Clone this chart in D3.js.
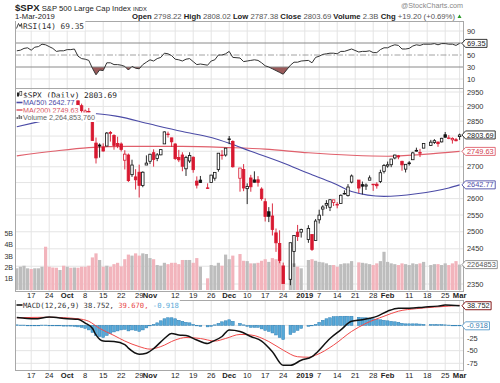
<!DOCTYPE html>
<html>
<head>
<meta charset="utf-8">
<script src="https://cdn.jsdelivr.net/npm/d3@7"></script>
<style>
  body { margin: 0; background: #fff; }
  svg { display: block; font-family: "Liberation Sans", Arial, sans-serif; }
</style>
</head>
<body>
<div id="chart"></div>
<script>
// ---- data ----
const firstDay = "2018-09-11", lastDay = "2019-03-01";
const holidays = ["2018-11-22", "2018-12-05", "2018-12-25", "2019-01-01", "2019-01-21", "2019-02-18"];
const prevClose = 2877.13;

const open = [
  2871.57, 2888.29, 2896.85, 2906.38,
  2903.83, 2890.74, 2906.60, 2919.73, 2936.76,
  2921.83, 2921.75, 2916.98, 2911.65, 2910.03,
  2926.29, 2923.80, 2931.69, 2919.35, 2902.54,
  2877.53, 2882.51, 2873.90, 2776.87, 2770.54,
  2763.83, 2767.05, 2811.67, 2802.00, 2775.66,
  2773.94, 2721.03, 2737.87, 2674.88, 2667.86,
  2682.65, 2640.68, 2705.60, 2717.58, 2745.45,
  2726.37, 2738.40, 2774.13, 2806.38, 2794.10,
  2773.93, 2730.05, 2737.90, 2693.52, 2718.54,
  2730.74, 2654.60, 2657.74, 2633.36,
  2649.97, 2663.75, 2691.45, 2736.97, 2737.76,
  2790.50, 2782.43, 2663.51, 2691.26,
  2630.86, 2664.44, 2658.23, 2658.70, 2629.68,
  2590.75, 2559.90, 2547.05, 2496.77, 2465.38,
  2400.56, 2363.12, 2442.50, 2498.77,
  2498.94, 2476.96, 2491.92, 2474.33,
  2535.61, 2568.11, 2580.00, 2573.51, 2588.11,
  2580.31, 2585.10, 2614.75, 2609.28, 2651.27,
  2657.88, 2643.48, 2638.84, 2657.44,
  2644.97, 2644.89, 2653.62, 2685.49, 2702.32,
  2706.49, 2728.34, 2735.05, 2717.53, 2692.36,
  2712.40, 2722.61, 2750.30, 2743.50, 2760.24,
  2769.28, 2779.05, 2780.24, 2780.67,
  2804.35, 2792.36, 2787.50, 2788.11, 2798.22
];
const high = [
  2892.52, 2894.65, 2906.76, 2908.30,
  2904.65, 2911.17, 2912.36, 2934.80, 2940.91,
  2923.79, 2923.95, 2931.15, 2927.22, 2920.53,
  2937.06, 2931.42, 2939.86, 2919.78, 2909.64,
  2889.45, 2894.83, 2874.02, 2795.14, 2775.77,
  2775.99, 2813.46, 2816.94, 2806.04, 2797.77,
  2778.94, 2753.59, 2742.59, 2722.70, 2692.38,
  2706.85, 2685.43, 2736.69, 2741.67, 2756.55,
  2744.27, 2756.82, 2815.15, 2814.75, 2794.10,
  2775.99, 2754.60, 2746.80, 2735.38, 2746.75,
  2733.16, 2669.44, 2670.73, 2647.55,
  2674.35, 2682.53, 2744.00, 2753.75, 2760.88,
  2800.18, 2785.93, 2696.15, 2708.54,
  2647.51, 2674.35, 2685.44, 2670.19, 2635.07,
  2601.13, 2573.99, 2585.29, 2509.63, 2504.41,
  2410.34, 2467.76, 2489.10, 2520.27,
  2509.24, 2519.49, 2493.14, 2538.07,
  2566.16, 2579.82, 2595.32, 2597.82, 2596.27,
  2589.32, 2613.08, 2625.76, 2645.06, 2675.47,
  2657.88, 2653.19, 2647.20, 2672.38,
  2644.97, 2650.93, 2690.44, 2708.95, 2716.66,
  2724.99, 2738.98, 2738.08, 2719.32, 2708.07,
  2718.05, 2748.19, 2761.85, 2757.90, 2775.66,
  2787.33, 2789.88, 2781.58, 2794.20,
  2813.49, 2803.12, 2795.76, 2793.73, 2808.02
];
const low = [
  2866.78, 2879.20, 2896.39, 2895.77,
  2886.16, 2890.43, 2903.82, 2919.73, 2927.11,
  2912.63, 2913.70, 2903.28, 2909.27, 2907.50,
  2917.91, 2919.37, 2921.36, 2883.92, 2869.29,
  2862.08, 2874.27, 2784.86, 2710.51, 2729.44,
  2749.03, 2766.91, 2781.81, 2755.18, 2760.27,
  2749.22, 2691.43, 2651.89, 2667.84, 2628.16,
  2603.54, 2635.34, 2705.60, 2708.85, 2700.44,
  2717.94, 2737.08, 2774.13, 2794.99, 2764.24,
  2722.00, 2714.98, 2685.75, 2670.75, 2712.16,
  2681.09, 2631.52, 2649.82, 2631.09,
  2649.97, 2655.89, 2684.38, 2722.94, 2732.76,
  2773.38, 2697.18, 2621.53, 2623.14,
  2583.23, 2621.30, 2650.26, 2637.27, 2593.84,
  2530.54, 2528.71, 2488.96, 2441.18, 2408.55,
  2351.10, 2346.58, 2397.94, 2472.89,
  2482.82, 2467.47, 2443.96, 2474.33,
  2524.56, 2547.56, 2568.89, 2562.02, 2577.40,
  2570.41, 2585.10, 2612.68, 2606.36, 2647.58,
  2617.27, 2612.86, 2627.01, 2657.33,
  2624.06, 2631.05, 2648.34, 2678.65, 2696.88,
  2698.75, 2724.03, 2724.15, 2687.26, 2681.83,
  2703.79, 2722.61, 2748.63, 2731.23, 2760.24,
  2767.29, 2774.06, 2764.55, 2779.11,
  2794.99, 2789.47, 2775.13, 2782.51, 2787.38
];
const close = [
  2887.89, 2888.92, 2904.18, 2904.98,
  2888.80, 2904.31, 2907.95, 2930.75, 2929.67,
  2919.37, 2915.56, 2905.97, 2914.00, 2913.98,
  2924.59, 2923.43, 2925.51, 2901.61, 2885.57,
  2884.43, 2880.34, 2785.68, 2728.37, 2767.13,
  2750.79, 2809.92, 2809.21, 2768.78, 2767.78,
  2755.88, 2740.69, 2656.10, 2705.57, 2658.69,
  2641.25, 2682.63, 2711.74, 2740.37, 2723.06,
  2738.31, 2755.45, 2813.89, 2806.83, 2781.01,
  2726.22, 2722.18, 2701.58, 2730.20, 2736.27,
  2690.73, 2641.89, 2649.93, 2632.56,
  2673.45, 2682.17, 2743.79, 2737.80, 2760.17,
  2790.37, 2700.06, 2695.95, 2633.08,
  2637.72, 2636.78, 2651.07, 2650.54, 2599.95,
  2545.94, 2546.16, 2506.96, 2467.42, 2416.62,
  2351.10, 2467.70, 2488.83, 2485.74,
  2506.85, 2510.03, 2447.89, 2531.94,
  2549.69, 2574.41, 2584.96, 2596.64, 2596.26,
  2582.61, 2610.30, 2616.10, 2635.96, 2670.71,
  2632.90, 2638.70, 2642.33, 2664.76,
  2643.85, 2640.00, 2681.05, 2704.10, 2706.53,
  2724.87, 2737.70, 2731.61, 2706.05, 2707.88,
  2709.80, 2744.73, 2753.03, 2745.73, 2775.60,
  2779.76, 2784.70, 2774.88, 2792.67,
  2796.11, 2793.90, 2792.38, 2784.49, 2803.69
];
// billions of shares
const volume = [
  1.93, 2.07, 2.16, 1.93,
  1.87, 1.93, 1.93, 2.07, 3.85,
  2.07, 2.00, 1.98, 1.78, 2.16,
  2.07, 1.98, 2.00, 1.98, 2.07,
  2.07, 2.16, 2.90, 3.26, 2.67,
  2.07, 2.16, 2.07, 2.30, 2.42,
  2.10, 2.74, 3.15, 3.06, 3.26,
  3.06, 3.26, 3.20, 2.84, 2.74,
  2.22, 2.16, 2.42, 2.30, 2.42,
  2.42, 2.30, 2.67, 2.67, 2.67,
  2.42, 2.84, 2.07, 1.04,
  2.22, 2.16, 2.42, 2.16, 3.15,
  2.74, 3.06, 3.20, 2.60,
  2.57, 2.37, 2.37, 2.42, 2.60,
  2.74, 2.50, 2.84, 2.74, 3.62,
  2.22, 2.67, 2.37, 2.07,
  1.93, 2.67, 2.74, 2.60,
  2.50, 2.46, 2.37, 2.22, 2.22,
  2.07, 2.30, 2.37, 2.37, 2.57,
  2.46, 2.42, 2.37, 2.30,
  2.22, 2.37, 2.57, 3.40, 2.50,
  2.37, 2.30, 2.22, 2.37, 2.30,
  2.22, 2.37, 2.30, 2.37, 2.50,
  2.22, 2.30, 2.30, 2.22,
  2.37, 2.22, 2.37, 2.57, 2.26
];
const rsi = [
  57, 58, 61, 62,
  58, 63, 64, 68, 67,
  64, 61, 56, 57, 57,
  59, 59, 60, 48, 44,
  43, 41, 28, 17, 25,
  24, 37, 37, 34, 34,
  33, 31, 25, 31, 28,
  27, 34, 38, 42, 40,
  44, 46, 53, 52, 49,
  43, 42, 40, 43, 44,
  39, 34, 35, 33,
  40, 42, 50, 50, 52,
  56, 46, 45, 39,
  40, 41, 42, 41, 37,
  32, 30, 27, 24, 21,
  18, 33, 38, 38,
  40, 41, 37, 46,
  48, 51, 52, 53, 53,
  52, 56, 56, 58, 60,
  55, 56, 56, 57,
  54, 54, 59, 62, 62,
  65, 67, 66, 60, 60,
  61, 65, 67, 66, 68,
  68, 69, 67, 69,
  69, 68, 68, 66, 69.35
];
const macdHist = [
  1, 0.5, 0.5, 0,
  -0.5, -1, -0.5, 0.5, 0.5,
  0, -0.5, -1, -1, -1.5,
  -1.5, -1.5, -2, -3, -4,
  -6, -9, -14, -20, -22,
  -24, -20, -16, -13, -11,
  -9, -8, -11, -9, -10,
  -12, -9, -5, -1, 2,
  5, 9, 13, 15, 15,
  13, 10, 8, 6, 5,
  2, -1, -2, -3,
  -2, 1, 4, 7, 9,
  11, 8, 4, 1,
  -2, -4, -4, -4, -7,
  -10, -12, -15, -19, -24,
  -28, -18, -14, -10,
  -6, -2, -0.5, 2,
  6, 10, 13, 15, 17,
  17.5, 18, 18, 18, 18,
  16, 15, 15, 14,
  13, 12, 11, 10, 9,
  8, 7, 6, 4, 3,
  3, 3, 3, 2.5, 2,
  2, 1.5, 1.5, 1.5,
  1, 0.5, 0, -0.5, -0.918
];

const ma50Days = ["2018-09-11", "2018-09-18", "2018-09-25", "2018-10-02", "2018-10-10", "2018-10-19",
  "2018-11-01", "2018-11-14", "2018-11-26", "2018-12-03", "2018-12-11", "2018-12-24", "2019-01-02",
  "2019-01-11", "2019-01-18", "2019-01-31", "2019-02-13", "2019-02-26", "2019-03-01"];
const ma50 = [2831, 2845, 2858, 2870, 2876, 2866, 2840, 2815, 2795, 2776, 2750, 2712, 2679,
  2648, 2622, 2607, 2615, 2633, 2642.77];

const ma200Days = ["2018-09-11", "2018-09-25", "2018-10-09", "2018-10-24", "2018-11-14", "2018-12-03",
  "2018-12-17", "2019-01-02", "2019-01-18", "2019-02-01", "2019-02-15", "2019-03-01"];
const ma200 = [2735, 2750, 2762, 2766, 2766, 2762, 2757, 2745, 2737, 2734, 2740, 2749.63];

const macdDays = ["2018-09-11", "2018-09-18", "2018-09-24", "2018-10-01", "2018-10-04", "2018-10-08",
  "2018-10-10", "2018-10-11", "2018-10-15", "2018-10-18", "2018-10-23", "2018-10-24", "2018-10-29",
  "2018-10-31", "2018-11-02", "2018-11-07", "2018-11-09", "2018-11-13", "2018-11-15", "2018-11-20",
  "2018-11-23", "2018-11-26", "2018-11-29", "2018-12-03", "2018-12-06", "2018-12-11", "2018-12-14",
  "2018-12-19", "2018-12-24", "2018-12-26", "2018-12-31", "2019-01-03", "2019-01-04", "2019-01-10",
  "2019-01-15", "2019-01-18", "2019-01-23", "2019-01-25", "2019-01-29", "2019-02-01", "2019-02-06",
  "2019-02-11", "2019-02-15", "2019-02-21", "2019-02-25", "2019-03-01"];
const macd = [15.6, 13, 16.4, 13, 12, 4.4, -5.7, -19, -31, -32, -38, -45, -57, -55, -46, -26, -16,
  -19, -20, -29, -36, -33, -22, -9, -12, -22, -31, -52, -79, -79, -69, -62, -56, -26, -9, 8, 11,
  14, 17.7, 28, 34, 34, 36, 38, 40, 38.752];

const signalDays = ["2018-09-11", "2018-09-24", "2018-10-04", "2018-10-09", "2018-10-12", "2018-10-18",
  "2018-10-23", "2018-10-29", "2018-11-01", "2018-11-06", "2018-11-12", "2018-11-15", "2018-11-21",
  "2018-11-27", "2018-11-30", "2018-12-06", "2018-12-11", "2018-12-18", "2018-12-24", "2018-12-28",
  "2019-01-02", "2019-01-04", "2019-01-11", "2019-01-18", "2019-01-24", "2019-01-31", "2019-02-06",
  "2019-02-13", "2019-02-20", "2019-02-26", "2019-03-01"];
const signal = [15, 16, 13, 8, -6, -20, -31, -42, -47, -42, -29, -24, -26, -31, -26, -18, -19, -32,
  -49, -62, -63, -59, -39, -12, 4, 18, 28, 33, 36, 38, 39.67];

const tickDays = ["2018-09-17", "2018-09-24", "2018-10-01", "2018-10-08", "2018-10-15", "2018-10-22",
  "2018-10-29", "2018-11-01", "2018-11-12", "2018-11-19", "2018-11-26", "2018-12-03", "2018-12-10",
  "2018-12-17", "2018-12-24", "2019-01-01", "2019-01-07", "2019-01-14", "2019-01-21", "2019-01-28",
  "2019-02-01", "2019-02-11", "2019-02-18", "2019-02-25", "2019-03-01"];
const tickLabels = ["17", "24", "Oct", "8", "15", "22", "29", "Nov", "12", "19", "26", "Dec", "10",
  "17", "24", "2019", "7", "14", "21", "28", "Feb", "11", "18", "25", "Mar"];

const priceTicks = [2950, 2900, 2850, 2800, 2750, 2700, 2650, 2600, 2550, 2500, 2450, 2400, 2350];
const rsiTicks = [90, 70, 50, 30, 10];
const macdTicks = [25, 0, -25, -50, -75];
const volTicks = [1, 2, 3, 4, 5];

// ---- layout ----
const W = 500, H = 383;
const L = 15, R = 464;
const rsiTop = 21, rsiBot = 88, mainTop = 88, mainBot = 291, macdTop = 300, macdBot = 370;
const RED = "#d81830", GRID = "#e4e4e4", BORDER = "#a8a8a8";

const parse = d3.timeParse("%Y-%m-%d"), fmt = d3.timeFormat("%Y-%m-%d");
const weekdays = d3.timeDay.range(parse(firstDay), d3.timeDay.offset(parse(lastDay), 1))
  .filter(d => d.getDay() % 6 !== 0).map(fmt);
const days = weekdays.filter(d => !holidays.includes(d));

const x = d3.scaleBand().domain(weekdays).range([L, 461.4]);
const cx = d => x(d) + x.bandwidth() / 2;
const yP = d3.scaleLog().domain([2350, 2950]).range([284, 92]);
const yV = d3.scaleLinear().domain([0, 5]).range([290, 233.8]);
const yR = d3.scaleLinear().domain([0, 100]).range([85, 25]);
const yM = d3.scaleLinear().domain([-75, 25]).range([363.3, 312.7]);

const last = a => a[a.length - 1];
// value tags on the right edge; the axis labels they cover are not drawn
const tags = [
  [yR(last(rsi)), "69.35", "#222", "#222"],
  [yP(last(close)), "2803.69", "#222", "#222"],
  [yP(last(ma200)), "2749.63", "#e0606c", "#d04050"],
  [yP(last(ma50)), "2642.77", "#4b4ba6", "#4b4ba6"],
  [yV(last(volume)), "2264853", "#888", "#555"],
  [Math.max(yM(last(macd)), macdTop + 4.5), "38.752", "#700", "#222"],
  [yM(last(macdHist)), "-0.918", "#5a9ccc", "#3a7cb0"]
];

const svg = d3.select("#chart").append("svg").attr("width", W).attr("height", H);

// ---- panel grids ----
function panel(top, bot, yTicks, ys) {
  const g = svg.append("g");
  g.selectAll("line.v").data(tickDays).join("line")
    .attr("x1", d => cx(d)).attr("x2", d => cx(d)).attr("y1", top).attr("y2", bot)
    .attr("stroke", GRID).attr("stroke-width", 1);
  g.selectAll("line.h").data(yTicks).join("line")
    .attr("x1", L).attr("x2", R).attr("y1", d => ys(d)).attr("y2", d => ys(d))
    .attr("stroke", GRID).attr("stroke-width", 1);
}
panel(rsiTop, rsiBot, [90, 10], yR);
panel(mainTop, mainBot, priceTicks, yP);
panel(macdTop, macdBot, macdTicks, yM);

// ---- RSI ----
const rsiData = days.map((d, i) => [d, rsi[i]]);
svg.append("clipPath").attr("id", "below30").append("rect")
  .attr("x", L).attr("y", yR(30)).attr("width", R - L).attr("height", yR(0) - yR(30));
svg.append("path").datum(rsiData)
  .attr("clip-path", "url(#below30)")
  .attr("fill", "#9a5a5a")
  .attr("d", d3.area().x(d => cx(d[0])).y0(yR(30)).y1(d => yR(d[1])));
[70, 30].forEach(v => svg.append("line").attr("x1", L).attr("x2", R)
  .attr("y1", yR(v)).attr("y2", yR(v)).attr("stroke", "#8a8a8a").attr("stroke-width", 1));
svg.append("line").attr("x1", L).attr("x2", R).attr("y1", yR(50)).attr("y2", yR(50))
  .attr("stroke", "#8a8a8a").attr("stroke-width", 0.8).attr("stroke-dasharray", "6,2,1.5,2");
svg.append("path").datum(rsiData)
  .attr("fill", "none").attr("stroke", "#333").attr("stroke-width", 1)
  .attr("d", d3.line().x(d => cx(d[0])).y(d => yR(d[1])));

// ---- volume ----
const bars = days.map((d, i) => ({
  d, o: open[i], h: high[i], l: low[i], c: close[i], v: volume[i],
  up: close[i] >= (i ? close[i - 1] : prevClose)
}));
svg.append("g").selectAll("rect").data(bars).join("rect")
  .attr("x", b => x(b.d) + 0.2).attr("width", x.bandwidth() - 0.4)
  .attr("y", b => yV(b.v)).attr("height", b => yV(0) - yV(b.v))
  .attr("fill", b => b.up ? "#bdbdbd" : "#f2b4bc");

// ---- moving averages ----
const smooth = (ys) => d3.line().x(d => cx(d[0])).y(d => ys(d[1])).curve(d3.curveMonotoneX);
svg.append("path").datum(ma200Days.map((d, i) => [d, ma200[i]]))
  .attr("fill", "none").attr("stroke", "#e0606c").attr("stroke-width", 1.1).attr("d", smooth(yP));
svg.append("path").datum(ma50Days.map((d, i) => [d, ma50[i]]))
  .attr("fill", "none").attr("stroke", "#4b4ba6").attr("stroke-width", 1.1).attr("d", smooth(yP));

// ---- candles ----
const cg = svg.append("g");
bars.forEach(b => {
  const col = b.up ? "#111" : RED;
  cg.append("line").attr("x1", cx(b.d)).attr("x2", cx(b.d))
    .attr("y1", yP(b.h)).attr("y2", yP(b.l)).attr("stroke", col).attr("stroke-width", 0.9);
  const top = yP(Math.max(b.o, b.c)), bot = yP(Math.min(b.o, b.c));
  cg.append("rect").attr("x", cx(b.d) - 1.25).attr("width", 2.5)
    .attr("y", top).attr("height", Math.max(bot - top, 0.6))
    .attr("fill", b.c >= b.o ? "#fff" : col).attr("stroke", col).attr("stroke-width", 0.8);
});

// ---- MACD ----
const histData = days.map((d, i) => [d, macdHist[i]]);
svg.append("g").selectAll("rect").data(histData).join("rect")
  .attr("x", d => cx(d[0]) - 1.4).attr("width", 2.8)
  .attr("y", d => Math.min(yM(0), yM(d[1])))
  .attr("height", d => Math.max(Math.abs(yM(d[1]) - yM(0)), 0.5))
  .attr("fill", "#56a8d8").attr("stroke", "#2e7fb4").attr("stroke-width", 0.5);
svg.append("path").datum(signalDays.map((d, i) => [d, signal[i]]))
  .attr("fill", "none").attr("stroke", "#f04a4a").attr("stroke-width", 1).attr("d", smooth(yM));
svg.append("path").datum(macdDays.map((d, i) => [d, macd[i]]))
  .attr("fill", "none").attr("stroke", "#111").attr("stroke-width", 1.5).attr("d", smooth(yM));

// ---- frames ----
[[rsiTop, rsiBot], [mainTop, mainBot], [macdTop, macdBot]].forEach(([t, b]) =>
  svg.append("rect").attr("x", L + 0.5).attr("y", t + 0.5).attr("width", R - L - 1).attr("height", b - t)
    .attr("fill", "none").attr("stroke", BORDER).attr("stroke-width", 1));

// ---- axes text ----
const free = yy => tags.every(t => Math.abs(t[0] - yy) > 7.5);
function rightLabels(vals, ys) {
  svg.append("g").selectAll("text").data(vals.filter(v => free(ys(v)))).join("text")
    .attr("x", 467).attr("y", d => ys(d)).attr("dy", "0.35em")
    .attr("font-size", 7.4).attr("fill", "#333").text(d => d);
}
rightLabels(rsiTicks, yR);
rightLabels(priceTicks, yP);
rightLabels(macdTicks, yM);
svg.append("g").selectAll("text").data(volTicks).join("text")
  .attr("x", 13).attr("y", d => yV(d)).attr("dy", "0.35em").attr("text-anchor", "end")
  .attr("font-size", 7).attr("fill", "#333").text(d => d + "B");

[297.5, 377.5].forEach(yy => {
  svg.append("g").selectAll("text").data(tickDays).join("text")
    .attr("x", d => cx(d)).attr("y", yy).attr("text-anchor", "middle")
    .attr("font-size", 7.6).attr("fill", "#222")
    .attr("font-weight", (d, i) => isNaN(+tickLabels[i]) || tickLabels[i].length === 4 ? "bold" : "normal")
    .text((d, i) => tickLabels[i]);
});

// ---- value tags ----
tags.forEach(([yy, txt, stroke, color]) => {
  const g = svg.append("g");
  const t = g.append("text").attr("x", 467).attr("y", yy).attr("dy", "0.35em")
    .attr("font-size", 7.4).attr("fill", color).text(txt);
  const w = t.node().getComputedTextLength();
  g.insert("path", "text")
    .attr("d", `M462,${yy} L465.5,${yy - 4} H${468.5 + w} V${yy + 4} H465.5 Z`)
    .attr("fill", "#fff").attr("stroke", stroke).attr("stroke-width", 0.9);
});

// ---- legends ----
function legendLine(yy, parts, fontFamily, size, icon) {
  const g = svg.append("g");
  const t = g.append("text").attr("x", 23).attr("y", yy).attr("font-size", size)
    .attr("font-family", fontFamily);
  parts.forEach(p => t.append("tspan").attr("fill", p[1]).text(p[0]));
  const bb = t.node().getBBox();
  g.insert("rect", "text").attr("x", L + 1).attr("y", bb.y - 0.5)
    .attr("width", bb.x + bb.width - L).attr("height", bb.height + 0.5).attr("fill", "#fff");
  icon(g, yy);
}
const mono = "'DejaVu Sans Mono', monospace", sans = "'Liberation Sans', Arial, sans-serif";
const candleIcon = (g, yy) => {
  g.append("rect").attr("x", 17).attr("y", yy - 5).attr("width", 2).attr("height", 4).attr("fill", "#222");
  g.append("rect").attr("x", 19.8).attr("y", yy - 6).attr("width", 2).attr("height", 4)
    .attr("fill", "#fff").attr("stroke", "#222").attr("stroke-width", 0.6);
};
const dashIcon = col => (g, yy) => g.append("line").attr("x1", 16.5).attr("x2", 22.5)
  .attr("y1", yy - 2.5).attr("y2", yy - 2.5).attr("stroke", col).attr("stroke-width", 1.6);
const volIcon = (g, yy) => [2, 4, 3].forEach((h, i) => g.append("rect")
  .attr("x", 16.5 + i * 2).attr("y", yy - 1 - h).attr("width", 1.6).attr("height", h).attr("fill", "#777"));
const rsiIcon = (g, yy) => g.append("path")
  .attr("d", `M16.5,${yy} L18.5,${yy - 5} L20,${yy - 2} L21.5,${yy - 5} L22,${yy}`)
  .attr("fill", "none").attr("stroke", "#333").attr("stroke-width", 0.9);

legendLine(28.5, [["RSI(14) 69.35", "#333"]], mono, 7.8, rsiIcon);
legendLine(97.5, [["$SPX (Daily) 2803.69", "#222"]], mono, 7.8, candleIcon);
legendLine(105, [["MA(50) 2642.77", "#4b4ba6"]], sans, 7.2, dashIcon("#4b4ba6"));
legendLine(112.5, [["MA(200) 2749.63", "#d8505c"]], sans, 7.2, dashIcon("#e0606c"));
legendLine(120, [["Volume 2,264,853,760", "#666"]], sans, 7.2, volIcon);
legendLine(307.5, [["MACD(12,26,9) 38.752, ", "#333"], ["39.670, ", "#e84848"], ["-0.918", "#5aaad8"]],
  mono, 7.2, dashIcon("#111"));

// ---- header ----
const hd = svg.append("g").attr("fill", "#222");
const t1 = hd.append("text").attr("x", L).attr("y", 10.5);
t1.append("tspan").attr("font-weight", "bold").attr("font-size", 9.6).text("$SPX");
t1.append("tspan").attr("font-size", 7.7).text(" S&P 500 Large Cap Index ");
t1.append("tspan").attr("font-size", 5.8).text("INDX");
hd.append("text").attr("x", L).attr("y", 18.5).attr("font-size", 7.7).text("1-Mar-2019");
const t2 = hd.append("text").attr("x", 455).attr("y", 18.5).attr("font-size", 7.7).attr("text-anchor", "end");
[["Open", " 2798.22 "], ["High", " 2808.02 "], ["Low", " 2787.38 "], ["Close", " 2803.69 "],
 ["Volume", " 2.3B "], ["Chg", " +19.20 (+0.69%)"]].forEach(([k, v]) => {
  t2.append("tspan").attr("font-weight", "bold").text(k);
  t2.append("tspan").attr("fill", "#555").text(v);
});
hd.append("path").attr("d", "M457.5,18 L459.5,14.5 L461.5,18 Z").attr("fill", "#2a9a2a");
hd.append("text").attr("x", 463).attr("y", 8).attr("text-anchor", "end")
  .attr("font-size", 7.2).attr("fill", "#888").text("@StockCharts.com");
</script>
</body>
</html>
